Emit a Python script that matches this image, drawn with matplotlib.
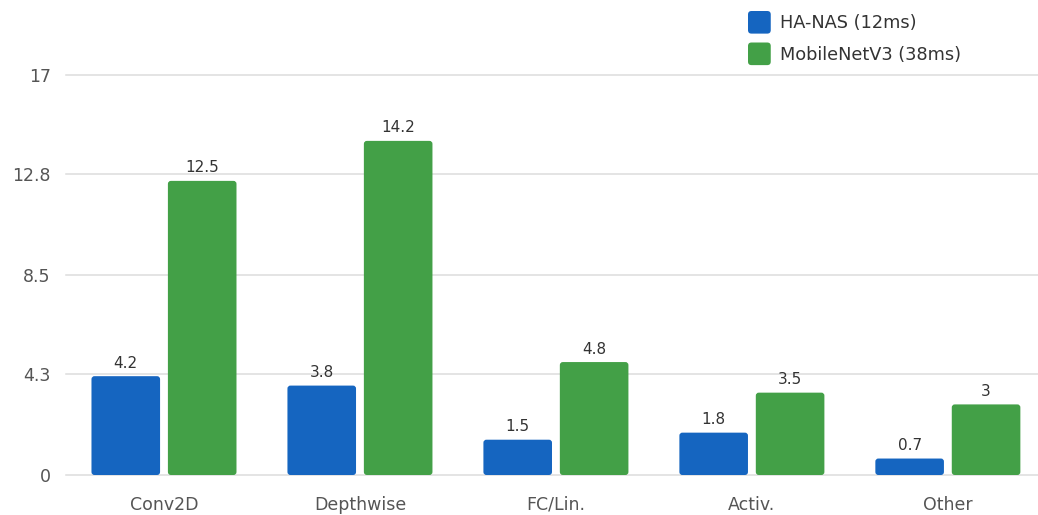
import numpy as np
import matplotlib
matplotlib.use('Agg')
import matplotlib.pyplot as plt
from matplotlib.patches import FancyBboxPatch, Patch
from matplotlib.legend_handler import HandlerPatch

plt.rcParams['font.family'] = ['DejaVu Sans']

# dados
categories = ["Conv2D", "Depthwise", "FC/Lin.", "Activ.", "Other"]
hanas = [4.2, 3.8, 1.5, 1.8, 0.7]
mobilenet = [12.5, 14.2, 4.8, 3.5, 3]
series_names = ["HA-NAS (12ms)", "MobileNetV3 (38ms)"]
yticks = [0, 4.3, 8.5, 12.8, 17]

BLUE = "#1565c0"
GREEN = "#43a047"

fig = plt.figure(figsize=(10.38, 5.15), dpi=100)
ax = fig.add_axes([66 / 1038, 40 / 515, 972 / 1038, 400 / 515])

x = np.arange(len(categories))
width = 0.35
offset = 0.195

ax.set_xlim(-0.5, 4.46)
ax.set_ylim(0, 17)

# aspecto para arredondar os cantos igual nos dois eixos
px_x = 1 / 196
px_y = 17 / 400
aspect = px_y / px_x


def rounded_bars(xs, values, color):
    bars = ax.bar(xs, values, width, color=color)
    for b in bars:
        b.set_visible(False)
        p = FancyBboxPatch((b.get_x(), b.get_y()), b.get_width(), b.get_height(),
                           boxstyle=f"round,pad=0,rounding_size={3 * px_x}",
                           mutation_aspect=aspect, facecolor=color,
                           edgecolor="none", zorder=3)
        ax.add_patch(p)
    for xi, v in zip(xs, values):
        ax.annotate(f"{v:g}", (xi, v), xytext=(0, 4), textcoords="offset points",
                    ha="center", va="bottom", fontsize=11, color="#333333")


rounded_bars(x - offset, hanas, BLUE)
rounded_bars(x + offset, mobilenet, GREEN)

ax.set_yticks(yticks)
ax.set_yticklabels([f"{t:g}" for t in yticks])
ax.set_xticks(x)
ax.set_xticklabels(categories)
ax.tick_params(axis="y", length=0, pad=11, labelsize=12.5, labelcolor="#555555")
ax.tick_params(axis="x", length=0, pad=15, labelsize=12.5, labelcolor="#555555")
ax.grid(axis="y", color="#dddddd", linewidth=1.1)
ax.set_axisbelow(True)
for gl in ax.get_ygridlines():
    gl.set_clip_on(False)
for s in ax.spines.values():
    s.set_visible(False)


def rounded_handle(legend, orig_handle, xdescent, ydescent, width, height, fontsize):
    return FancyBboxPatch((-xdescent, -ydescent), width, height,
                          boxstyle="round,pad=0,rounding_size=2.5")


handles = [Patch(facecolor=BLUE), Patch(facecolor=GREEN)]
fig.legend(handles, series_names, loc="upper left",
           bbox_to_anchor=(748 / 1038, 1 - 11 / 515), frameon=False,
           fontsize=12.8, labelcolor="#333333", borderpad=0, borderaxespad=0,
           handlelength=1.28, handleheight=1.58, handletextpad=0.5, labelspacing=0.5,
           handler_map={Patch: HandlerPatch(patch_func=rounded_handle)})

fig.savefig("out.png", dpi=100)
